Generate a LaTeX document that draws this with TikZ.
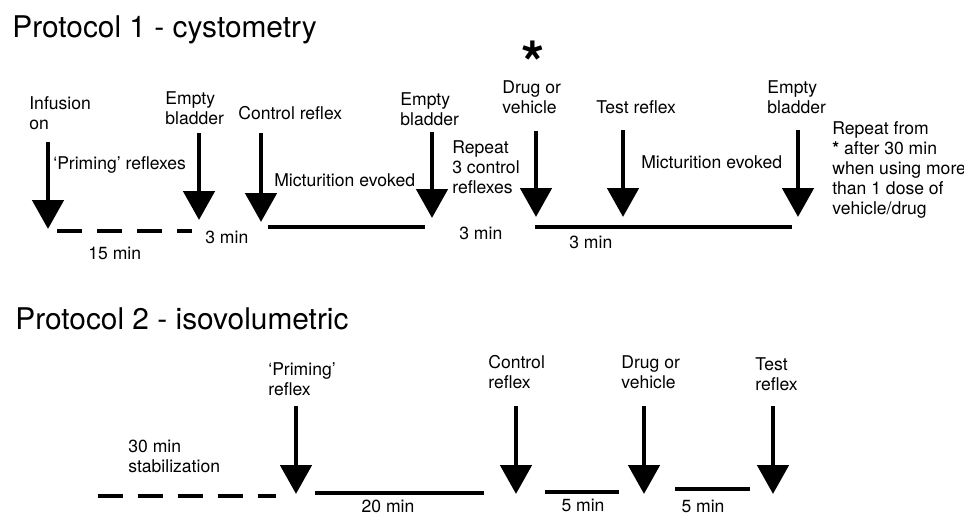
\documentclass[tikz,border=0pt]{standalone}
\usepackage{fontspec}
\setmainfont{TeX Gyre Heros}
\tikzset{trigger/.style = {line width=2.8pt, -{Triangle[width=0.62cm,length=0.58cm]}}}
\tikzset{period/.style = {line width=2.4pt}, waiting/.style = {period, dash pattern=on 0.5cm off 0.3cm}}
\tikzset{txt/.style = {font=\fontsize{10}{11.5}\selectfont, align=left, anchor=west, inner sep=0pt},
         heading/.style = {font=\fontsize{17}{19}\selectfont, anchor=base west, inner sep=0pt}}
\usetikzlibrary{arrows.meta}

\begin{document}
\begin{tikzpicture}[x=0.02cm, y=-0.02cm]
\useasboundingbox (0,0) rectangle (964,515);
% protocol 1
\node[heading] (title1) at (12,37) {Protocol 1 - cystometry};
\foreach \n/\x/\t/\b in {i/48/142/229, e/199/133/220, c/261/133/222, f/432/132/218, d/536/131/217, t/623/130/217, g/798/130/217}
  {\coordinate (top-\n) at (\x,\t); \coordinate (tip-\n) at (\x,\b);
   \draw[trigger] (top-\n) -- (tip-\n);}
\coordinate (w1) at (57,231); \coordinate (w1e) at (192,231);
\coordinate (m1) at (268,227); \coordinate (m1e) at (425,227);
\coordinate (m2) at (535,227); \coordinate (m2e) at (792,227);
\draw[waiting] (w1) -- (w1e);
\draw[period] (m1) -- (m1e);
\draw[period] (m2) -- (m2e);
\node[txt] (infusion) at (29,113) {Infusion\\on};
\node[txt] (empty1) at (165,108) {Empty\\bladder};
\node[txt] (ctrl1) at (238,113) {Control reflex};
\node[txt] (empty2) at (400,109) {Empty\\bladder};
\node[txt] (priming1) at (53,165) {‘Priming’ reflexes};
\node[txt] (mict1) at (274,180) {Micturition evoked};
\node[txt] (t15) at (88,253) {15 min};
\node[txt] (t3a) at (205,237) {3 min};
\node[txt] (repeat) at (452,167) {Repeat\\3 control\\reflexes};
\node[txt] (t3b) at (459,233) {3 min};
\node[inner sep=0pt, font=\fontsize{34}{34}\selectfont\bfseries] (star) at (533,50) {\raisebox{-0.42em}[0.3em][0pt]{*}};
\node[txt] (drug1) at (502,97) {Drug or\\vehicle};
\node[txt] (test1) at (596,107) {Test reflex};
\node[txt] (empty3) at (767,97) {Empty\\bladder};
\node[txt] (mict2) at (641,162) {Micturition evoked};
\node[txt] (t3c) at (569,242) {3 min};
\node[txt] (again) at (832,170) {Repeat from\\{\bfseries *} after 30 min\\when using more\\than 1 dose of\\vehicle/drug};
% protocol 2
\node[heading] (title2) at (15,329) {Protocol 2 - isovolumetric};
\foreach \n/\x in {p/296, c/516, d/644, t/773}
  {\coordinate (top2-\n) at (\x,406); \coordinate (tip2-\n) at (\x,494);
   \draw[trigger] (top2-\n) -- (tip2-\n);}
\coordinate (w2) at (98,496); \coordinate (w2e) at (276,496);
\coordinate (m3) at (315,493); \coordinate (m3e) at (484,493);
\coordinate (m4) at (545,492); \coordinate (m4e) at (619,492);
\coordinate (m5) at (675,489); \coordinate (m5e) at (750,489);
\draw[waiting] (w2) -- (w2e);
\draw[period] (m3) -- (m3e);
\draw[period] (m4) -- (m4e);
\draw[period] (m5) -- (m5e);
\node[txt] (stab) at (128,456) {30 min\\stabilization};
\node[txt] (priming2) at (268,379) {‘Priming’\\reflex};
\node[txt] (ctrl2) at (488,372) {Control\\reflex};
\node[txt] (drug2) at (621,372) {Drug or\\vehicle};
\node[txt] (test2) at (755,374) {Test\\reflex};
\node[txt, anchor=center] (t20) at (388,506) {20 min};
\node[txt, anchor=center] (t5a) at (583,505) {5 min};
\node[txt, anchor=center] (t5b) at (703,506) {5 min};
\end{tikzpicture}
\end{document}
